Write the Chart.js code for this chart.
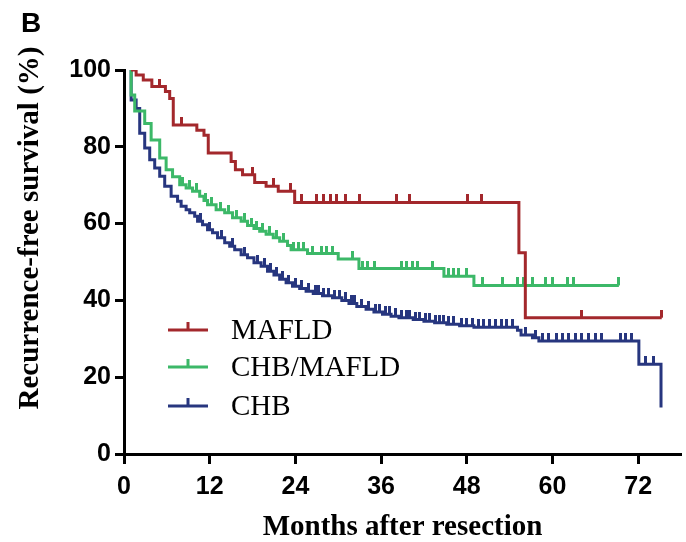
<!DOCTYPE html>
<html><head><meta charset="utf-8">
<script src="https://cdn.jsdelivr.net/npm/chart.js@4.4.1/dist/chart.umd.min.js"></script>
<style>html,body{margin:0;padding:0;background:#fff}#wrap{width:686px;height:542px;position:relative}</style>
</head><body><div id="wrap"><canvas id="c" width="686" height="542"></canvas></div>
<script>
const panelLabel = 'B';
const yTitle = 'Recurrence-free survival (%)';
const xTitle = 'Months after resection';
const seriesNames = ['MAFLD', 'CHB/MAFLD', 'CHB'];
const seriesColors = ['#a3282c', '#3cb868', '#27367f'];
const xTicks = [0, 12, 24, 36, 48, 60, 72];
const yTicks = [0, 20, 40, 60, 80, 100];

// MAFLD
const mafldTime = [1, 1.7, 2.7, 3.9, 5.8, 6.4, 6.9, 10.2, 11.2, 11.8, 15.0, 15.6, 16.6, 18.3, 19.9, 21.6, 23.9, 55.3, 56.2];
const mafldSurv = [100, 98.7, 97.4, 95.7, 94.4, 92.6, 85.7, 84.3, 83.0, 78.4, 76.2, 74.0, 72.7, 70.7, 69.7, 68.4, 65.5, 52.4, 35.5];
const mafldEnd = 75.3;
const mafldCensor = [5.0, 8.0, 18.0, 21.0, 23.3, 24.9, 27.0, 28.0, 28.9, 29.8, 31.0, 33.0, 38.1, 40.0, 48.1, 50.0, 64.1, 75.3];

// CHB/MAFLD
const chbMafldTime = [1, 1.0, 1.5, 2.9, 3.8, 5.0, 5.9, 6.8, 7.8, 8.7, 9.6, 10.6, 11.2, 11.7, 12.9, 14.1, 15.2, 16.4, 17.3, 18.2, 19.0, 19.9, 20.9, 21.8, 22.9, 23.4, 25.7, 30.0, 32.9, 44.8, 49.0];
const chbMafldSurv = [100, 93.5, 89.3, 86.1, 81.8, 77.1, 74.0, 72.2, 70.1, 69.3, 68.4, 67.1, 66.0, 64.9, 63.6, 62.8, 61.5, 60.6, 59.5, 58.7, 58.0, 57.2, 56.3, 55.4, 54.3, 53.2, 52.2, 50.8, 48.3, 46.3, 43.9];
const chbMafldEnd = 69.3;
const chbMafldCensor = [8.2, 9.2, 10.1, 11.4, 12.3, 13.5, 14.6, 15.8, 16.9, 17.8, 18.6, 19.4, 20.4, 21.4, 22.4, 23.8, 24.5, 25.2, 26.4, 27.6, 28.3, 29.2, 32.0, 33.4, 34.1, 35.1, 38.8, 39.5, 40.4, 41.1, 43.2, 45.5, 46.2, 46.9, 47.9, 50.2, 53.0, 55.1, 56.0, 57.2, 59.0, 60.0, 62.1, 63.0, 69.3];

// CHB
const chbTime = [1, 1, 1.7, 2.2, 2.9, 3.6, 4.3, 5.0, 5.7, 6.6, 7.5, 8.0, 8.7, 9.2, 9.9, 10.3, 11.0, 11.7, 12.4, 13.1, 14.1, 14.8, 15.5, 16.4, 17.3, 18.2, 19.2, 20.1, 21.0, 21.8, 22.7, 23.6, 24.6, 25.5, 26.5, 27.8, 29.2, 30.5, 31.5, 32.6, 33.9, 35.0, 36.2, 37.4, 38.5, 40.5, 42.0, 43.5, 45.2, 47.0, 49.0, 55.1, 55.6, 57.2, 58.1, 72.1, 75.2];
const chbSurv = [100, 92.2, 90.0, 83.5, 79.7, 76.6, 74.5, 72.3, 69.7, 67.1, 65.8, 64.5, 63.6, 62.8, 61.9, 60.6, 59.7, 58.4, 57.6, 56.3, 55.0, 54.1, 53.2, 51.9, 51.1, 49.8, 48.9, 47.6, 46.6, 45.5, 44.6, 43.7, 43.1, 42.4, 41.8, 41.2, 40.7, 40.0, 39.2, 38.4, 37.7, 37.0, 36.4, 35.9, 35.5, 35.0, 34.6, 34.2, 33.8, 33.4, 33.0, 32.2, 31.0, 30.3, 29.4, 23.4, 12.1];
const chbEnd = 75.2;
const chbCensor = [10.7, 12.0, 13.6, 15.2, 16.9, 18.7, 19.7, 20.5, 21.3, 22.2, 23.0, 24.0, 24.9, 25.8, 26.8, 27.2, 28.0, 28.7, 29.5, 30.2, 31.0, 31.8, 32.3, 33.2, 34.3, 35.2, 35.8, 36.6, 37.2, 38.0, 38.8, 39.5, 40.0, 40.8, 41.4, 42.2, 42.8, 43.6, 44.2, 44.8, 45.5, 46.2, 47.3, 48.0, 48.8, 49.6, 50.4, 51.2, 52.0, 52.8, 53.6, 54.4, 56.2, 57.6, 58.6, 59.5, 60.5, 61.4, 62.3, 63.2, 64.1, 65.1, 66.0, 66.9, 69.5, 70.2, 71.1, 73.0, 74.2];

const series = [
  {time: mafldTime, surv: mafldSurv, end: mafldEnd, censor: mafldCensor},
  {time: chbMafldTime, surv: chbMafldSurv, end: chbMafldEnd, censor: chbMafldCensor},
  {time: chbTime, surv: chbSurv, end: chbEnd, censor: chbCensor}
];

function survAt(s, t) {
  let v = s.surv[0];
  for (let i = 0; i < s.time.length; i++) { if (s.time[i] <= t) v = s.surv[i]; }
  return v;
}
function tickImage(color) {
  const c = document.createElement('canvas');
  c.width = 3; c.height = 16;
  const g = c.getContext('2d');
  g.fillStyle = color;
  g.fillRect(0, 0, 3, 8);
  return c;
}
const tickImgs = seriesColors.map(tickImage);

const datasets = [];
series.forEach((s, i) => {
  const pts = s.time.map((t, k) => ({x: t, y: s.surv[k]}));
  pts.push({x: s.end, y: s.surv[s.surv.length - 1]});
  datasets.push({
    label: seriesNames[i], data: pts, borderColor: seriesColors[i], borderWidth: 3,
    stepped: 'before', pointRadius: 0, fill: false, order: i * 2 + 1, tension: 0
  });
  datasets.push({
    label: seriesNames[i] + ' censored', data: s.censor.map(t => ({x: t, y: survAt(s, t)})),
    showLine: false, pointStyle: tickImgs[i], pointRadius: 4, order: i * 2,
    borderColor: seriesColors[i], backgroundColor: seriesColors[i]
  });
});

const decor = {
  id: 'decor',
  afterDraw(chart) {
    const ctx = chart.ctx;
    ctx.save();
    ctx.fillStyle = '#000';
    ctx.font = 'bold 28px "Liberation Sans", Arial, sans-serif';
    ctx.textAlign = 'left'; ctx.textBaseline = 'alphabetic';
    ctx.fillText(panelLabel, 21, 32);
    ctx.save();
    ctx.translate(31, 228);
    ctx.rotate(-Math.PI / 2);
    ctx.font = 'bold 29px "Liberation Serif", "Times New Roman", serif';
    ctx.textAlign = 'center'; ctx.textBaseline = 'middle';
    ctx.fillText(yTitle, 0, 0);
    ctx.restore();
    const ys = [330, 367, 406];
    seriesNames.forEach((name, i) => {
      const y = ys[i];
      ctx.strokeStyle = seriesColors[i]; ctx.lineWidth = 3;
      ctx.beginPath(); ctx.moveTo(168, y); ctx.lineTo(208, y); ctx.stroke();
      ctx.fillStyle = seriesColors[i];
      ctx.fillRect(186.5, y - 8, 3, 8);
      ctx.fillStyle = '#000';
      ctx.font = '29px "Liberation Serif", "Times New Roman", serif';
      ctx.textAlign = 'left'; ctx.textBaseline = 'middle';
      ctx.fillText(name, 231, y + 1);
    });
    ctx.restore();
  }
};

new Chart(document.getElementById('c'), {
  type: 'line',
  data: {datasets},
  plugins: [decor],
  options: {
    responsive: false, animation: false, devicePixelRatio: 1,
    layout: {padding: {left: 0, right: 3, top: 70, bottom: 0}},
    plugins: {legend: {display: false}, tooltip: {enabled: false}, title: {display: false}},
    scales: {
      x: {
        type: 'linear', min: 0, max: 78,
        afterFit(s) { s.height = 88; },
        afterBuildTicks(s) { s.ticks = xTicks.map(v => ({value: v})); },
        grid: {display: true, drawOnChartArea: false, drawTicks: true, tickLength: 10, tickWidth: 3, tickColor: '#000', color: '#000'},
        border: {display: true, color: '#000', width: 3},
        ticks: {color: '#000', font: {family: '"Liberation Sans", Arial, sans-serif', weight: 'bold', size: 25}, padding: 8, maxRotation: 0, autoSkip: false},
        title: {display: true, text: xTitle, color: '#000', font: {family: '"Liberation Serif", "Times New Roman", serif', weight: 'bold', size: 29, lineHeight: 1.0}, padding: {top: 0, bottom: 0}}
      },
      y: {
        type: 'linear', min: 0, max: 100,
        afterFit(s) { s.width = 124; },
        afterBuildTicks(s) { s.ticks = yTicks.map(v => ({value: v})); },
        grid: {display: true, drawOnChartArea: false, drawTicks: true, tickLength: 9, tickWidth: 3, tickColor: '#000', color: '#000'},
        border: {display: true, color: '#000', width: 3},
        ticks: {color: '#000', font: {family: '"Liberation Sans", Arial, sans-serif', weight: 'bold', size: 25}, padding: 4}
      }
    }
  }
});
</script></body></html>
